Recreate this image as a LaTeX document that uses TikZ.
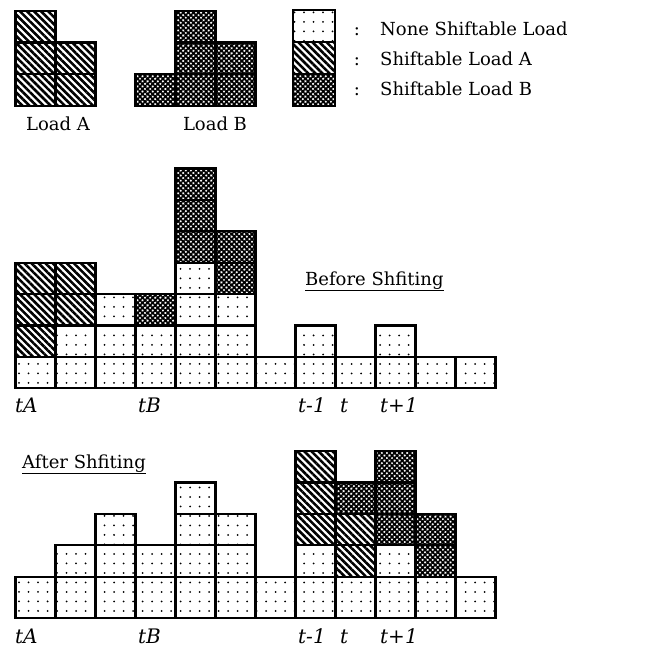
\documentclass[tikz,border=0pt]{standalone}
\usepackage{fontspec}
\setmainfont{DejaVu Serif}
\usetikzlibrary{positioning,patterns.meta}
\tikzset{
  cell/.style = {rectangle, draw=black, line width=2.2pt, inner sep=0pt,
    minimum width=40pt, minimum height=31.4pt},
  cell_n/.style = {cell, pattern={Dots[distance=9.5pt, radius=1pt]}},% none shiftable
  cell_a/.style = {cell, pattern={Lines[angle=-45, distance=5pt, line width=2.6pt]}},% load A
  cell_b/.style = {cell, pattern={Hatch[angle=45, distance=3.6pt, line width=1.7pt]}},% load B
  txt/.style = {inner sep=0pt, anchor=base west, font=\fontsize{18}{21}\selectfont},
  tlab/.style = {txt, font=\fontsize{20}{23}\selectfont\itshape}
}
\begin{document}
\begin{tikzpicture}[x=1pt, y=-1pt]
\useasboundingbox (0,0) rectangle (646,649);
% the two loads
\foreach \c/\r in {0/1,1/1,0/2,1/2,0/3}
  \node [cell_a, minimum height=31.8pt] (la-\c-\r) at ({35.5+40*\c}, {106-31.8*(\r-0.5)}) {};
\foreach \c/\r in {0/1,1/1,2/1,1/2,2/2,1/3}
  \node [cell_b, minimum height=31.8pt] (lb-\c-\r) at ({155.5+40*\c}, {106-31.8*(\r-0.5)}) {};
\node [txt, anchor=base] (la-txt) at (58,130) {Load A};
\node [txt, anchor=base] (lb-txt) at (215,130) {Load B};
% legend
\foreach \s/\t [count=\i] in {n/None Shiftable Load, a/Shiftable Load A, b/Shiftable Load B}{
  \node [cell_\s, minimum width=42pt, minimum height=32pt] (key-\s) at (314, {26+32*(\i-1)}) {};
  \node [txt, anchor=base] (key-\s-col) at (357, {35+30*(\i-1)}) {:};
  \node [txt] (key-\s-txt) at (380, {35+30*(\i-1)}) {\t};
}
% before shifting
\foreach \c/\stack in {0/{n,a,a,a}, 1/{n,n,a,a}, 2/{n,n,n}, 3/{n,n,b},
    4/{n,n,n,n,b,b,b}, 5/{n,n,n,b,b}, 6/{n}, 7/{n,n}, 8/{n}, 9/{n,n}, 10/{n}, 11/{n}}
  \foreach \s [count=\r] in \stack
    \node [cell_\s] (bf-\c-\r) at ({35.5+40*\c}, {388.3-31.4*(\r-0.5)}) {};
\node [txt] (bf-title) at (305,285) {\underline{Before Shfiting}};
% after shifting
\foreach \c in {0,...,11}
  \node [cell_n, minimum height=41.7pt] (af-\c-0) at ({35.5+40*\c}, 597.45) {};
\foreach \c/\stack in {1/{n}, 2/{n,n}, 3/{n}, 4/{n,n,n}, 5/{n,n},
    7/{n,a,a,a}, 8/{a,a,b}, 9/{n,b,b,b}, 10/{b,b}}
  \foreach \s [count=\r] in \stack
    \node [cell_\s] (af-\c-\r) at ({35.5+40*\c}, {576.6-31.4*(\r-0.5)}) {};
\node [txt] (af-title) at (22,468) {\underline{After Shfiting}};
% time labels
\foreach \x/\t/\n in {15/tA/ta, 138/tB/tb, 298/t-1/tm, 340/t/t, 380/t+1/tp}{
  \node [tlab] (bf-\n) at (\x,412) {\t};
  \node [tlab] (af-\n) at (\x,643) {\t};
}
\end{tikzpicture}
\end{document}
